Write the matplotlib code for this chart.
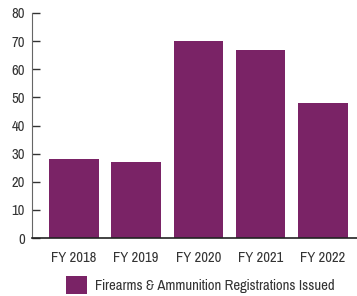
import matplotlib
matplotlib.use("Agg")
import matplotlib.pyplot as plt
from matplotlib import font_manager

years = ["FY 2018", "FY 2019", "FY 2020", "FY 2021", "FY 2022"]
registrations = [28, 27, 70, 67, 48]
yticks = [0, 10, 20, 30, 40, 50, 60, 70, 80]
series_name = "Firearms & Ammunition Registrations Issued"

# narrow font like Arial Narrow if one is installed
names = {f.name for f in font_manager.fontManager.ttflist}
fam = "DejaVu Sans"
for cand in ["Liberation Sans Narrow", "Pragati Narrow", "PT Sans Narrow", "Roboto Condensed"]:
    if cand in names:
        fam = cand
        break
plt.rcParams["font.family"] = [fam, "DejaVu Sans"]
fs = 11.5

color = "#7a2366"
fig = plt.figure(figsize=(3.57, 2.96), dpi=100)
ax = fig.add_axes([32 / 357, 58 / 296, 325 / 357, 225 / 296])

bars = ax.bar(range(len(years)), registrations, width=0.8, color=color,
              label=series_name)

ax.set_ylim(0, 80)
ax.set_xlim(-0.675, 4.55)
ax.set_yticks(yticks)
ax.set_xticks(range(len(years)))
ax.set_xticklabels(years)
ax.tick_params(axis="y", direction="in", length=6, width=1, color="#333333",
               labelsize=fs, labelcolor="#333333", pad=5)
ax.tick_params(axis="x", length=0, labelsize=fs, labelcolor="#333333", pad=9)

for s in ["top", "right"]:
    ax.spines[s].set_visible(False)
ax.spines["left"].set_color("#666666")
ax.spines["bottom"].set_color("#222222")
ax.spines["bottom"].set_linewidth(1.2)

fig.legend(handles=[bars], labels=[series_name], loc="center",
           bbox_to_anchor=(200 / 357, 1 - 285 / 296), frameon=False,
           fontsize=fs, handlelength=1.3, handleheight=1.3,
           handletextpad=0.5, labelcolor="#333333")

fig.savefig("out.png", dpi=100)
